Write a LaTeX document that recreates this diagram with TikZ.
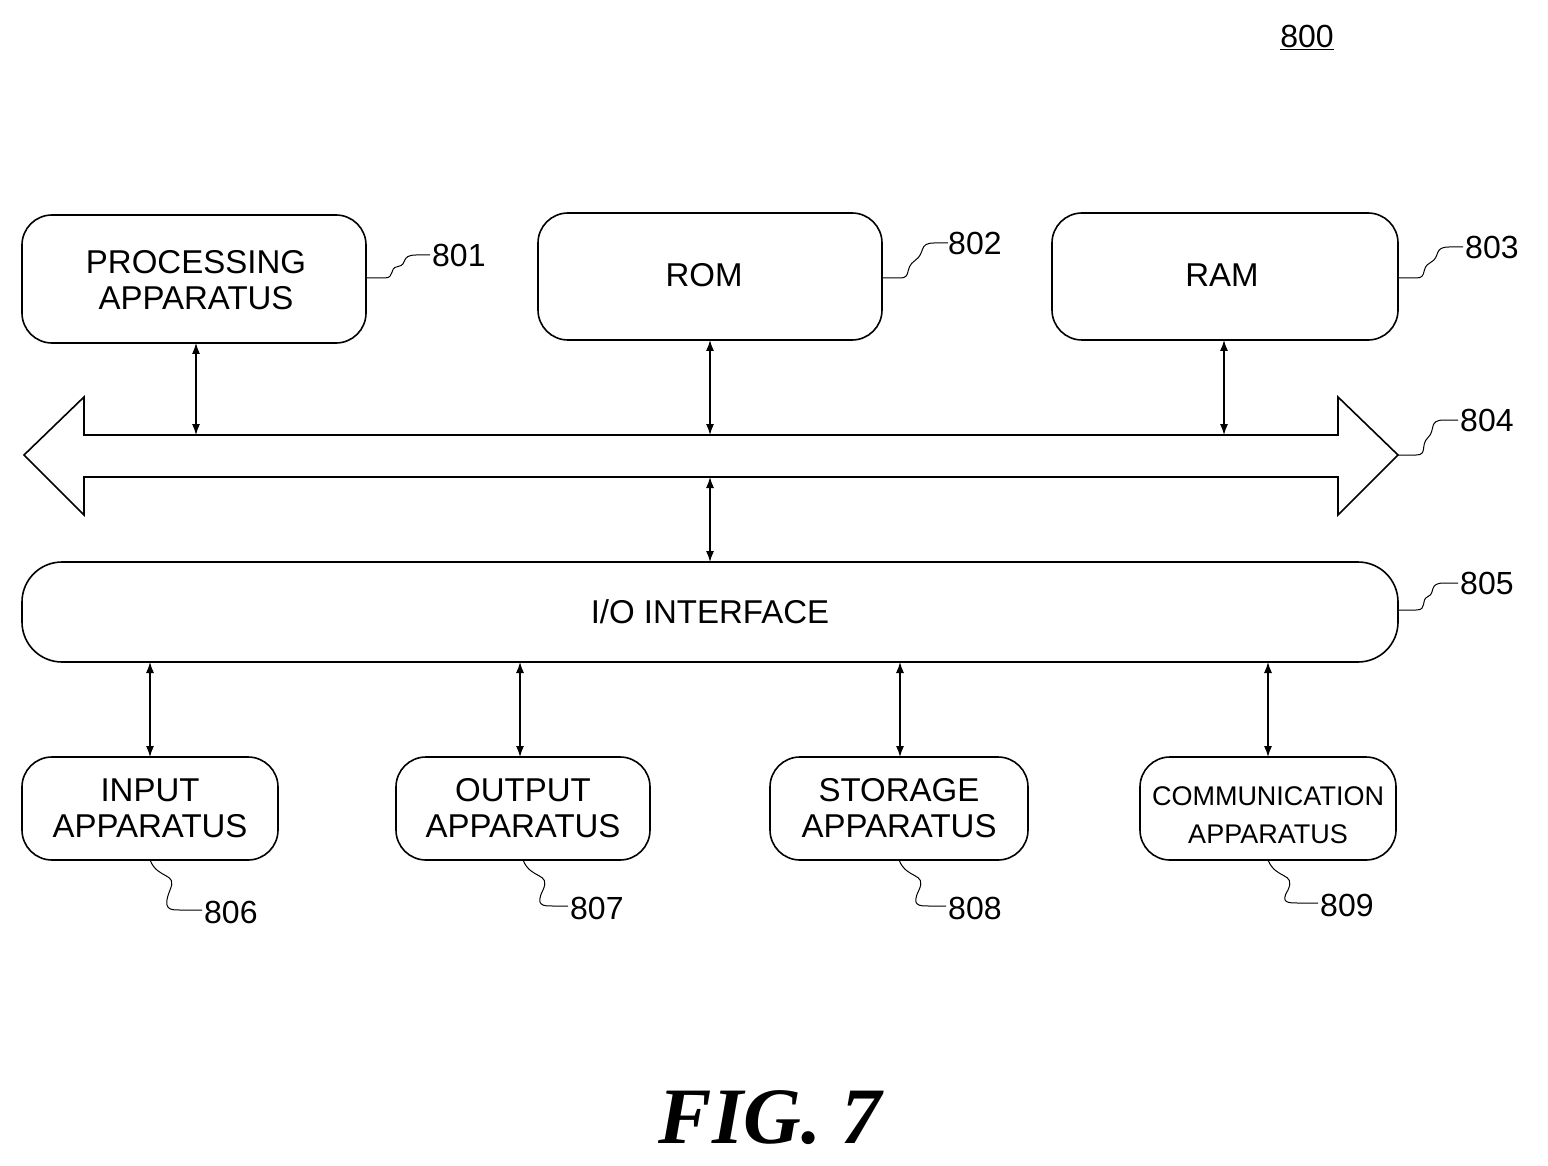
\documentclass[tikz,border=0pt]{standalone}
\usepackage{fontspec}
\setmainfont{Liberation Sans}
\newfontfamily\figfont{Liberation Serif}
\usetikzlibrary{arrows.meta}
\begin{document}
\begin{tikzpicture}[x=1pt,y=-1pt,
  box/.style={draw,line width=1.6pt,rounded corners=30pt},
  bot/.style={draw,line width=1.6pt,rounded corners=30pt},
  lbl/.style={font=\fontsize{33}{36}\selectfont,align=center},
  num/.style={font=\fontsize{32}{34}\selectfont,anchor=west,inner sep=0pt},
  dbl/.style={{Latex[length=11pt,width=8pt]}-{Latex[length=11pt,width=8pt]},line width=1.2pt},
  lead/.style={line width=1pt}]
\useasboundingbox (0,0) rectangle (1548,1166);
% top boxes
\draw[box] (22,215) rectangle (366,343);
\node[lbl] (p) at (196,280) {PROCESSING\\APPARATUS};
\draw[box] (538,213) rectangle (882,340);
\node[lbl] (rom) at (704,275) {ROM};
\draw[box] (1052,213) rectangle (1398,340);
\node[lbl] (ram) at (1222,275) {RAM};
% bus
\draw[line width=1.6pt,fill=white] (24,455) -- (84,397) -- (84,435) -- (1338,435) -- (1338,397) -- (1398,455) -- (1338,515) -- (1338,477) -- (84,477) -- (84,515) -- cycle;
% IO
\draw[box,rounded corners=40pt] (22,562) rectangle (1398,662);
\node[lbl] (io) at (710,612) {I/O INTERFACE};
% bottom
\draw[bot] (22,757) rectangle (278,860);
\node[lbl] (in) at (150,808) {INPUT\\APPARATUS};
\draw[bot] (396,757) rectangle (650,860);
\node[lbl] (out) at (523,808) {OUTPUT\\APPARATUS};
\draw[bot] (770,757) rectangle (1028,860);
\node[lbl] (st) at (899,808) {STORAGE\\APPARATUS};
\draw[bot] (1140,757) rectangle (1396,860);
\node[lbl,font=\fontsize{27}{38}\selectfont] (cm) at (1268,815) {COMMUNICATION\\APPARATUS};
% arrows
\coordinate (a1) at (196,343); \coordinate (b1) at (196,435);
\coordinate (a2) at (710,340); \coordinate (b2) at (710,435);
\coordinate (a3) at (1224,340); \coordinate (b3) at (1224,435);
\coordinate (a4) at (710,477); \coordinate (b4) at (710,562);
\draw[dbl] (a1)--(b1); \draw[dbl] (a2)--(b2); \draw[dbl] (a3)--(b3); \draw[dbl] (a4)--(b4);
\foreach \x in {150,520,900,1268}{\draw[dbl] (\x,662)--(\x,757);}
% leaders
\foreach \sx/\sy/\ex/\ey in {366/278/430/255, 882/278/948/243, 1398/278/1463/247, 1398/455/1458/420, 1398/610/1458/583}{
  \draw[lead] (\sx,\sy) -- ({\sx+18},\sy) .. controls ({\sx+30},\sy) and ({\sx+22},{\sy-10}) .. ({(\sx+\ex)/2},{(\sy+\ey)/2}) .. controls ({\ex-22},{\ey+10}) and ({\ex-30},\ey) .. ({\ex-14},\ey) -- (\ex,\ey);}
\foreach \sx/\sy/\ex/\ey in {150/860/202/910, 523/860/568/906, 899/860/946/906, 1268/860/1318/903}{
  \draw[lead] (\sx,\sy) .. controls ({\sx+8},{\sy+20}) and ({\sx+28},{\sy+12}) .. ({\sx+20},{\sy+30}) .. controls ({\sx+12},{\ey}) and ({\sx+20},\ey) .. ({\sx+30},\ey) -- (\ex,\ey);}
\node[num] (n1) at (432,255) {801};
\node[num] (n2) at (948,243) {802};
\node[num] (n3) at (1465,247) {803};
\node[num] (n4) at (1460,420) {804};
\node[num] (n5) at (1460,583) {805};
\node[num] (n6) at (204,912) {806};
\node[num] (n7) at (570,908) {807};
\node[num] (n8) at (948,908) {808};
\node[num] (n9) at (1320,905) {809};
\node[font=\fontsize{32}{34}\selectfont,inner sep=0pt] (n0) at (1307,37) {\underline{800}};
\node[font=\figfont\bfseries\itshape\fontsize{80}{90}\selectfont] (fig) at (770,1118) {FIG. 7};
\end{tikzpicture}
\end{document}
